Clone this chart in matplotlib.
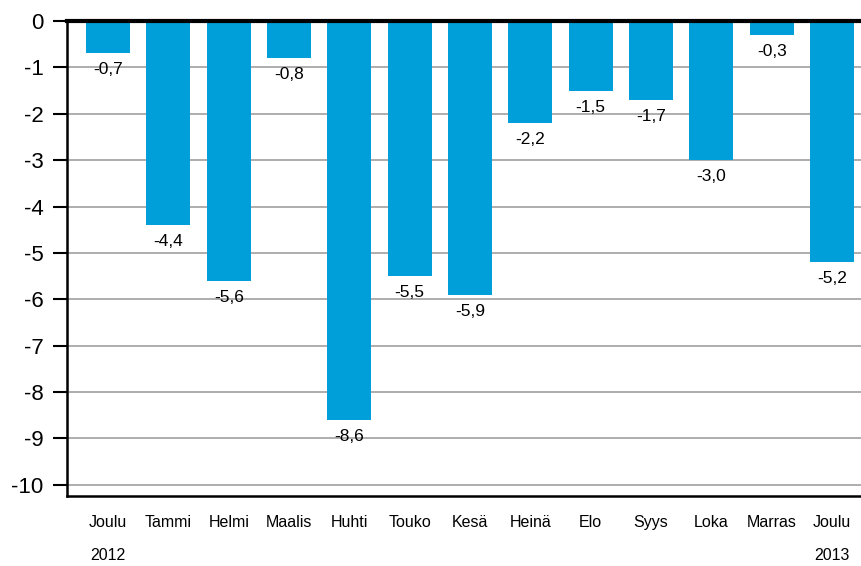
import matplotlib
matplotlib.use("Agg")
from matplotlib import pyplot as plt
import numpy as np

months = ["Joulu", "Tammi", "Helmi", "Maalis", "Huhti", "Touko", "Kesä",
          "Heinä", "Elo", "Syys", "Loka", "Marras", "Joulu"]
values = [-0.7, -4.4, -5.6, -0.8, -8.6, -5.5, -5.9, -2.2, -1.5, -1.7, -3.0, -0.3, -5.2]
years = ["2012", "", "", "", "", "", "", "", "", "", "", "", "2013"]
yticks = [0, -1, -2, -3, -4, -5, -6, -7, -8, -9, -10]

plt.rcParams["font.family"] = ["Liberation Sans", "DejaVu Sans"]

fig = plt.figure(figsize=(8.61, 5.66), dpi=100)
ax = fig.add_axes([67/861, 1 - 496/566, 1 - 67/861, (496 - 21)/566])

x = np.arange(len(values))
ax.bar(x, values, width=0.73, color="#009fd9", zorder=3)

for xi, v in zip(x, values):
	ax.annotate("{:.1f}".format(v).replace(".", ","), (xi, v), xytext=(0, -6.5),
		textcoords="offset points", ha="center", va="top", fontsize=12.5, zorder=4)

ax.set_xlim(-0.68, 12.48)
ax.set_ylim(-10.24, 0)
ax.set_yticks(yticks)
ax.set_yticklabels([str(t) for t in yticks], fontsize=16)
ax.yaxis.grid(True, color="#a0a0a0", linewidth=1.2, zorder=0)
ax.axhline(0, color="black", linewidth=3, zorder=5, clip_on=False)
ax.tick_params(axis="y", length=10, width=1.5, color="black", pad=7)

ax.set_xticks(x)
ax.set_xticklabels(months, fontsize=11.5)
ax.tick_params(axis="x", length=0, pad=14)
for xi, yr in zip(x, years):
	if yr:
		ax.annotate(yr, (xi, 0), xycoords=("data", "axes fraction"), xytext=(0, -42.5),
			textcoords="offset points", ha="center", va="center", fontsize=11.5)

for side in ["top", "right"]:
	ax.spines[side].set_visible(False)
ax.spines["left"].set_linewidth(1.8)
ax.spines["bottom"].set_linewidth(1.8)

fig.savefig("out.png", dpi=100)
plt.close(fig)
